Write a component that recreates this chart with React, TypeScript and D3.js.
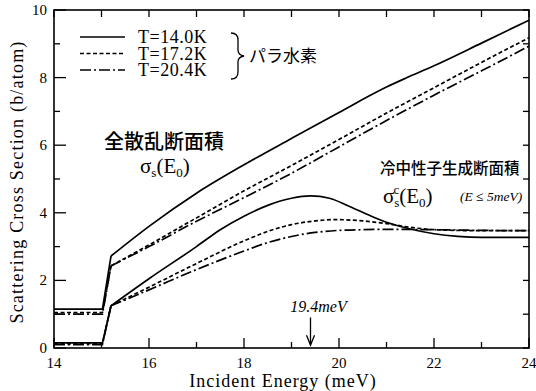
import { useEffect, useRef } from "react";
import * as d3 from "d3";

// total scattering cross section (upper curves), [E (meV), sigma (b/atom)]
const totalT14 = [[14, 1.15], [15.02, 1.15], [15.2, 2.72], [16, 3.6], [17, 4.58], [18, 5.42], [19, 6.2], [20, 6.97], [21, 7.72], [21.4, 7.98], [22, 8.35], [23, 9.02], [24, 9.7]];
const totalT17 = [[14, 1.05], [15.02, 1.05], [15.2, 2.43], [16, 3.05], [17, 3.85], [18, 4.65], [19, 5.4], [20, 6.17], [21, 6.95], [22, 7.7], [23, 8.45], [24, 9.18]];
const totalT20 = [[14, 1.0], [15.02, 1.0], [15.2, 2.43], [16, 3.0], [17, 3.75], [18, 4.45], [19, 5.17], [20, 5.95], [21, 6.73], [22, 7.48], [23, 8.2], [24, 8.93]];

// cold neutron production cross section (lower curves)
const coldT14 = [[14, 0.15], [15.02, 0.15], [15.2, 1.25], [16, 2.05], [17, 3.0], [17.5, 3.5], [18, 3.9], [18.5, 4.22], [19, 4.43], [19.4, 4.5], [19.8, 4.43], [20.2, 4.2], [20.6, 3.95], [21, 3.72], [21.5, 3.52], [22, 3.38], [22.5, 3.3], [23, 3.27], [24, 3.27]];
const coldT17 = [[14, 0.13], [15.02, 0.13], [15.2, 1.25], [16, 1.8], [17, 2.5], [18, 3.17], [18.5, 3.45], [19, 3.65], [19.5, 3.76], [19.9, 3.8], [20.5, 3.76], [21, 3.68], [21.5, 3.57], [22, 3.5], [23, 3.47], [24, 3.47]];
const coldT20 = [[14, 0.1], [15.02, 0.1], [15.2, 1.25], [16, 1.72], [17, 2.32], [18, 2.87], [18.5, 3.12], [19, 3.3], [19.5, 3.42], [20, 3.48], [20.5, 3.5], [21, 3.51], [22, 3.5], [23, 3.48], [24, 3.47]];

const legendLabels = ["T=14.0K", "T=17.2K", "T=20.4K"];
const xTickLabels = [14, 16, 18, 20, 22, 24];
const yTickLabels = [0, 2, 4, 6, 8, 10];
const peakEnergy = 19.4;

const dashes = [null, "4,2.5", "11,3,2,3"];

const App = () => {
  const svgRef = useRef(null);

  useEffect(() => {
    const width = 536;
    const height = 391;
    const svg = d3.select(svgRef.current);
    svg.selectAll("*").remove();

    const x = d3.scaleLinear().domain([14, 24]).range([54, 529]);
    const y = d3.scaleLinear().domain([0, 10]).range([348, 10]);

    const serif = "'Liberation Serif', 'DejaVu Serif', serif";
    const jp = "'Noto Sans CJK JP', sans-serif";

    // frame
    svg.append("rect")
      .attr("x", x(14)).attr("y", y(10))
      .attr("width", x(24) - x(14)).attr("height", y(0) - y(10))
      .attr("fill", "none").attr("stroke", "#000").attr("stroke-width", 1.6);

    // ticks, all pointing inward
    const ax = svg.append("g").attr("stroke", "#000").attr("stroke-width", 1.3);
    d3.range(14, 25, 1).forEach(v => {
      const major = v % 2 === 0;
      ax.append("line").attr("x1", x(v)).attr("x2", x(v))
        .attr("y1", y(0)).attr("y2", y(0) - (major ? 10 : 6));
      ax.append("line").attr("x1", x(v)).attr("x2", x(v))
        .attr("y1", y(10)).attr("y2", y(10) + 7);
    });
    d3.range(0, 11, 1).forEach(v => {
      const major = v % 2 === 0;
      ax.append("line").attr("x1", x(14)).attr("x2", x(14) + (major ? 12 : 6))
        .attr("y1", y(v)).attr("y2", y(v));
      ax.append("line").attr("x1", x(24)).attr("x2", x(24) - 6)
        .attr("y1", y(v)).attr("y2", y(v));
    });

    svg.append("g").selectAll("text").data(xTickLabels).join("text")
      .attr("x", d => x(d)).attr("y", 368)
      .attr("text-anchor", "middle")
      .attr("font-family", serif).attr("font-size", 15)
      .text(d => d);

    svg.append("g").selectAll("text").data(yTickLabels).join("text")
      .attr("x", 47).attr("y", d => y(d) + 5)
      .attr("text-anchor", "end")
      .attr("font-family", serif).attr("font-size", 15)
      .text(d => d);

    svg.append("text")
      .attr("x", 283).attr("y", 387)
      .attr("text-anchor", "middle")
      .attr("font-family", serif).attr("font-size", 18)
      .attr("letter-spacing", 1)
      .text("Incident Energy  (meV)");

    svg.append("text")
      .attr("transform", `translate(23,${182}) rotate(-90)`)
      .attr("text-anchor", "middle")
      .attr("font-family", serif).attr("font-size", 18)
      .attr("letter-spacing", 1.2)
      .text("Scattering  Cross  Section  (b/atom)");

    // curves: straight up to the edge at 15.2, smooth after it
    const straight = d3.line().x(d => x(d[0])).y(d => y(d[1]));
    const smooth = d3.line().curve(d3.curveMonotoneX).x(d => x(d[0])).y(d => y(d[1]));
    const curves = [
      [totalT14, 0], [totalT17, 1], [totalT20, 2],
      [coldT14, 0], [coldT17, 1], [coldT20, 2],
    ];
    curves.forEach(([data, k]) => {
      const cut = data.findIndex(d => d[0] >= 15.2);
      svg.append("path")
        .attr("d", straight(data.slice(0, cut + 1)) + smooth(data.slice(cut)))
        .attr("fill", "none").attr("stroke", "#000")
        .attr("stroke-width", 1.7)
        .attr("stroke-dasharray", dashes[k]);
    });

    // legend
    const lg = svg.append("g");
    legendLabels.forEach((t, i) => {
      const ly = 37 + i * 16.5;
      lg.append("line").attr("x1", 80).attr("x2", 125).attr("y1", ly).attr("y2", ly)
        .attr("stroke", "#000").attr("stroke-width", 1.7)
        .attr("stroke-dasharray", dashes[i]);
      lg.append("text").attr("x", 138).attr("y", ly + 6)
        .attr("font-family", serif).attr("font-size", 18)
        .attr("letter-spacing", 0.5)
        .text(t);
    });
    lg.append("path")
      .attr("d", "M231,33 Q238,33 238,40 L238,50 Q238,55 244,56 Q238,57 238,62 L238,72 Q238,79 231,79")
      .attr("fill", "none").attr("stroke", "#000").attr("stroke-width", 1.3);
    lg.append("text").attr("x", 249).attr("y", 62)
      .attr("font-family", jp).attr("font-size", 17)
      .text("パラ水素");

    // annotations
    svg.append("text").attr("x", 104).attr("y", 149)
      .attr("font-family", jp).attr("font-size", 20).attr("font-weight", 500)
      .text("全散乱断面積");
    const s1 = svg.append("text").attr("x", 140).attr("y", 173)
      .attr("font-family", serif).attr("font-size", 21);
    s1.append("tspan").text("σ");
    s1.append("tspan").attr("font-size", 13).attr("dy", 4).text("s");
    s1.append("tspan").attr("dy", -4).text("(E");
    s1.append("tspan").attr("font-size", 13).attr("dy", 4).text("0");
    s1.append("tspan").attr("dy", -4).text(")");

    svg.append("text").attr("x", 380).attr("y", 174)
      .attr("font-family", jp).attr("font-size", 15.5).attr("font-weight", 500)
      .text("冷中性子生成断面積");
    const s2 = svg.append("text").attr("x", 383).attr("y", 203)
      .attr("font-family", serif).attr("font-size", 21);
    s2.append("tspan").text("σ");
    s2.append("tspan").attr("font-size", 13).attr("dy", 4).text("s");
    s2.append("tspan").attr("font-size", 13).attr("dx", -6).attr("dy", -13).text("c");
    s2.append("tspan").attr("dy", 9).text("(E");
    s2.append("tspan").attr("font-size", 13).attr("dy", 4).text("0");
    s2.append("tspan").attr("dy", -4).text(")");
    svg.append("text").attr("x", 460).attr("y", 201)
      .attr("font-family", serif).attr("font-size", 13.5).attr("font-style", "italic")
      .text("(E ≤ 5meV)");

    // peak marker
    const px = x(peakEnergy);
    svg.append("text").attr("x", px + 8).attr("y", 312)
      .attr("text-anchor", "middle")
      .attr("font-family", serif).attr("font-size", 16).attr("font-style", "italic")
      .text("19.4meV");
    svg.append("path")
      .attr("d", `M${px},${y(0.9)} L${px},${y(0.08)} M${px - 4},${y(0.38)} L${px},${y(0.08)} L${px + 4},${y(0.38)}`)
      .attr("fill", "none").attr("stroke", "#000").attr("stroke-width", 1.3);

    svg.attr("width", width).attr("height", height);
  }, []);

  return <svg ref={svgRef} width={536} height={391} style={{ position: "absolute", left: 0, top: 0, background: "#fff" }}></svg>;
};

export default App;
